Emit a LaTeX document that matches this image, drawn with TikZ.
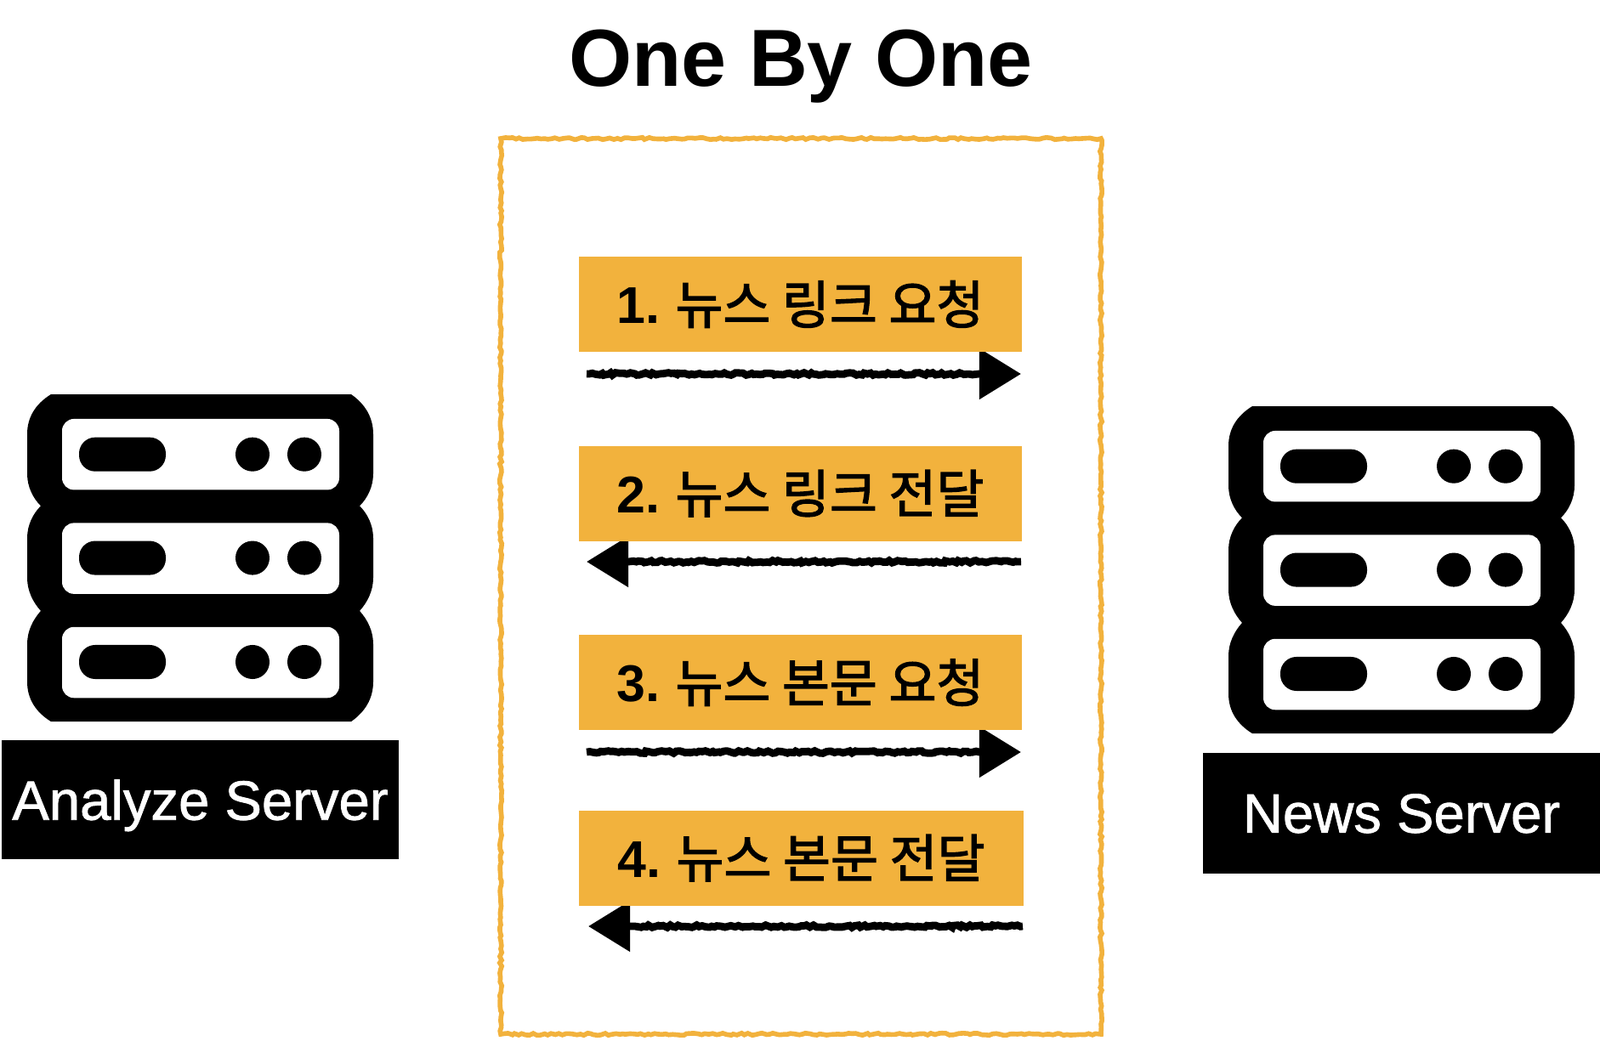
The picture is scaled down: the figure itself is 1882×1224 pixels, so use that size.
\documentclass[tikz,border=0pt]{standalone}
\usepackage{fontspec}
\setmainfont{Liberation Sans}
\newfontfamily\krfont[FakeBold=2.2]{Noto Sans CJK KR}
\newfontfamily\tagfont[FakeBold=1.2]{Liberation Sans}
\newfontfamily\numfont{Liberation Sans Bold}
\usepackage{xcolor}
\usetikzlibrary{arrows.meta,positioning,decorations.pathmorphing}
\definecolor{tagorange}{HTML}{F2B23D}
\newcommand{\stepno}[1]{{\numfont #1}}

\begin{document}
\begin{tikzpicture}[
x=0.01cm,y=-0.01cm,
msgbox/.style={fill=tagorange,align=center,inner sep=0pt,minimum width=5.2cm,minimum height=1.12cm,font=\krfont\fontsize{17.3}{20}\selectfont},
tag/.style={fill=black,text=white,align=center,inner sep=0pt,minimum width=4.67cm,minimum height=1.4cm,text depth=0pt,font=\tagfont\fontsize{18.55}{24}\selectfont},
roughline/.style={line width=2.5pt,decoration={random steps,segment length=1pt,amplitude=0.4pt,post length=14pt},decorate},
arrow/.style={roughline,-{Triangle[length=14pt,width=16.5pt]}},
roughframe/.style={draw=tagorange,line width=1.6pt,decoration={random steps,segment length=1.2pt,amplitude=0.35pt},decorate},
rack/.pic={
  \fill[black] (28,0) -- (381,0) .. controls (397,10) and (407,24) .. (407,42) -- (407,84)
    .. controls (407,98) and (400,110) .. (391,118) .. controls (400,126) and (407,138) .. (407,152) -- (407,194)
    .. controls (407,208) and (400,220) .. (391,229) .. controls (400,238) and (407,250) .. (407,264) -- (407,304)
    .. controls (407,322) and (397,336) .. (381,346) -- (28,346)
    .. controls (10,336) and (0,322) .. (0,304) -- (0,264)
    .. controls (0,250) and (7,238) .. (16,229) .. controls (7,220) and (0,208) .. (0,194) -- (0,152)
    .. controls (0,138) and (7,126) .. (16,118) .. controls (7,110) and (0,98) .. (0,84) -- (0,42)
    .. controls (0,24) and (10,10) .. (28,0) -- cycle;
  \foreach \top/\mid in {26/63.5,136/173,246/283}{
    \fill[white,rounded corners=1.4mm] (41,\top) rectangle (367,\top+75);
    \fill[black,rounded corners=1.9mm] (61,\mid-18) rectangle (163,\mid+18);
    \fill[black] (265,\mid) ellipse [x radius=20,y radius=18];
    \fill[black] (326,\mid) ellipse [x radius=20,y radius=18];
  }
},
]
\useasboundingbox (0,0) rectangle (1882,1224);
\draw[roughframe] (589,163) rectangle (1295,1217);

\pic[yscale=1.113] at (32,464) {rack};
\pic[yscale=1.113] at (1445,478) {rack};

\coordinate (reqa) at (690,440);
\coordinate (reqb) at (1201,440);
\coordinate (resa) at (1201,661);
\coordinate (resb) at (690,661);
\coordinate (bodya) at (690,885);
\coordinate (bodyb) at (1201,885);
\coordinate (backa) at (1203,1090);
\coordinate (backb) at (692,1090);
\draw[arrow] (reqa) -- (reqb);
\draw[arrow] (resa) -- (resb);
\draw[arrow] (bodya) -- (bodyb);
\draw[arrow] (backa) -- (backb);

\node[font=\bfseries\fontsize{27.1}{32}\selectfont] (title) at (942,78) {One By One};
\node[msgbox] (linkreq) at (941.5,358) {\stepno{1.} 뉴스 링크 요청};
\node[msgbox,below=1.09cm of linkreq] (linkres) {\stepno{2.} 뉴스 링크 전달};
\node[msgbox,below=1.09cm of linkres] (bodyreq) {\stepno{3.} 뉴스 본문 요청};
\node[msgbox,below=0.93cm of bodyreq,xshift=0.3pt,minimum width=5.22cm] (bodyres) {\stepno{4.} 뉴스 본문 전달};
\node[tag] (analyze) at (235.5,941) {Analyze Server};
\node[tag,minimum height=1.42cm] (news) at (1648.5,957) {News Server};
\end{tikzpicture}
\end{document}
